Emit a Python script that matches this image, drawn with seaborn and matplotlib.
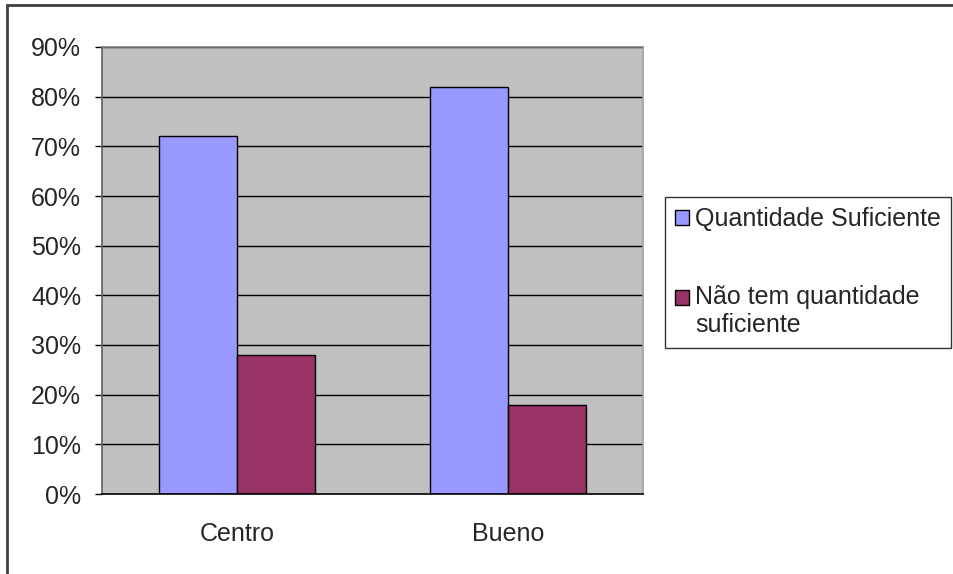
import numpy as np
import pandas as pd
import matplotlib
matplotlib.use("Agg")
import matplotlib.pyplot as plt
import seaborn as sns
from matplotlib.patches import Rectangle
from matplotlib.legend_handler import HandlerPatch

categories = ["Centro", "Bueno"]
series = ["Quantidade Suficiente", "Não tem quantidade\nsuficiente"]
suficiente = [0.72, 0.82]
nao_suficiente = [0.28, 0.18]
yticks = [0.0, 0.1, 0.2, 0.3, 0.4, 0.5, 0.6, 0.7, 0.8, 0.9]
colors = ["#9999FF", "#993366"]

df = pd.DataFrame({
    "local": categories * 2,
    "serie": [series[0]] * 2 + [series[1]] * 2,
    "valor": suficiente + nao_suficiente,
})

sns.set_style("white")
plt.rcParams["font.family"] = ["Liberation Sans", "DejaVu Sans"]

fs = 18
fig = plt.figure(figsize=(9.54, 5.74), dpi=100)
ax = fig.add_axes([102 / 954, 1 - 494 / 574, 541 / 954, 447 / 574])
ax.set_facecolor("#C0C0C0")

sns.barplot(data=df, x="local", y="valor", hue="serie", palette=colors,
            width=0.577, edgecolor="black", linewidth=1, saturation=1,
            ax=ax, zorder=3)

ax.set_ylim(0, 0.9)
ax.set_xlim(-0.5, 1.5)
ax.set_yticks(yticks)
ax.set_yticklabels([f"{int(round(v * 100))}%" for v in yticks], fontsize=fs)
ax.set_xticks([0, 1])
ax.set_xticklabels(categories, fontsize=fs)
ax.set_xticks([-0.5, 0.5, 1.5], minor=True)
ax.tick_params(axis="x", which="major", length=0, pad=20)
ax.tick_params(axis="x", which="minor", length=5, width=1, color="black", direction="out")
ax.tick_params(axis="y", length=5, width=1, color="black", direction="out", left=True, pad=10)
ax.set_xlabel("")
ax.set_ylabel("")

for v in yticks[1:]:
    ax.axhline(v, color="black", linewidth=1, zorder=2)

ax.spines["left"].set_color("#606060")
ax.spines["bottom"].set_color("black")
ax.spines["top"].set_color("#808080")
ax.spines["right"].set_color("#A0A0A0")
for s in ax.spines.values():
    s.set_linewidth(1.2)
    s.set_zorder(4)


def square_at(offset):
    # legend square lined up with the first text line
    def make(legend, orig_handle, xdescent, ydescent, width, height, fontsize):
        return Rectangle((-xdescent, -ydescent + offset), width, height)
    return HandlerPatch(patch_func=make)


ax.get_legend().remove()
handles = [Rectangle((0, 0), 1, 1, facecolor=c, edgecolor="black", linewidth=1) for c in colors]
leg = fig.legend(handles, series, loc="upper left", bbox_to_anchor=(665 / 954, 1 - 197 / 574),
                 fontsize=fs, frameon=True, fancybox=False, handlelength=0.55,
                 handleheight=0.55, handletextpad=0.25, labelspacing=2.15,
                 borderpad=0.4, borderaxespad=0,
                 handler_map={handles[0]: square_at(0), handles[1]: square_at(10.5)})
leg.get_frame().set_edgecolor("black")
leg.get_frame().set_linewidth(1)
for t in leg.get_texts():
    t.set_linespacing(1.25)

fig.patches.append(Rectangle((7 / 954, -0.1), 1.2, 1 - 5 / 574 + 0.1, transform=fig.transFigure,
                             fill=False, edgecolor="#404040", linewidth=2))

fig.savefig("out.png", dpi=100)
